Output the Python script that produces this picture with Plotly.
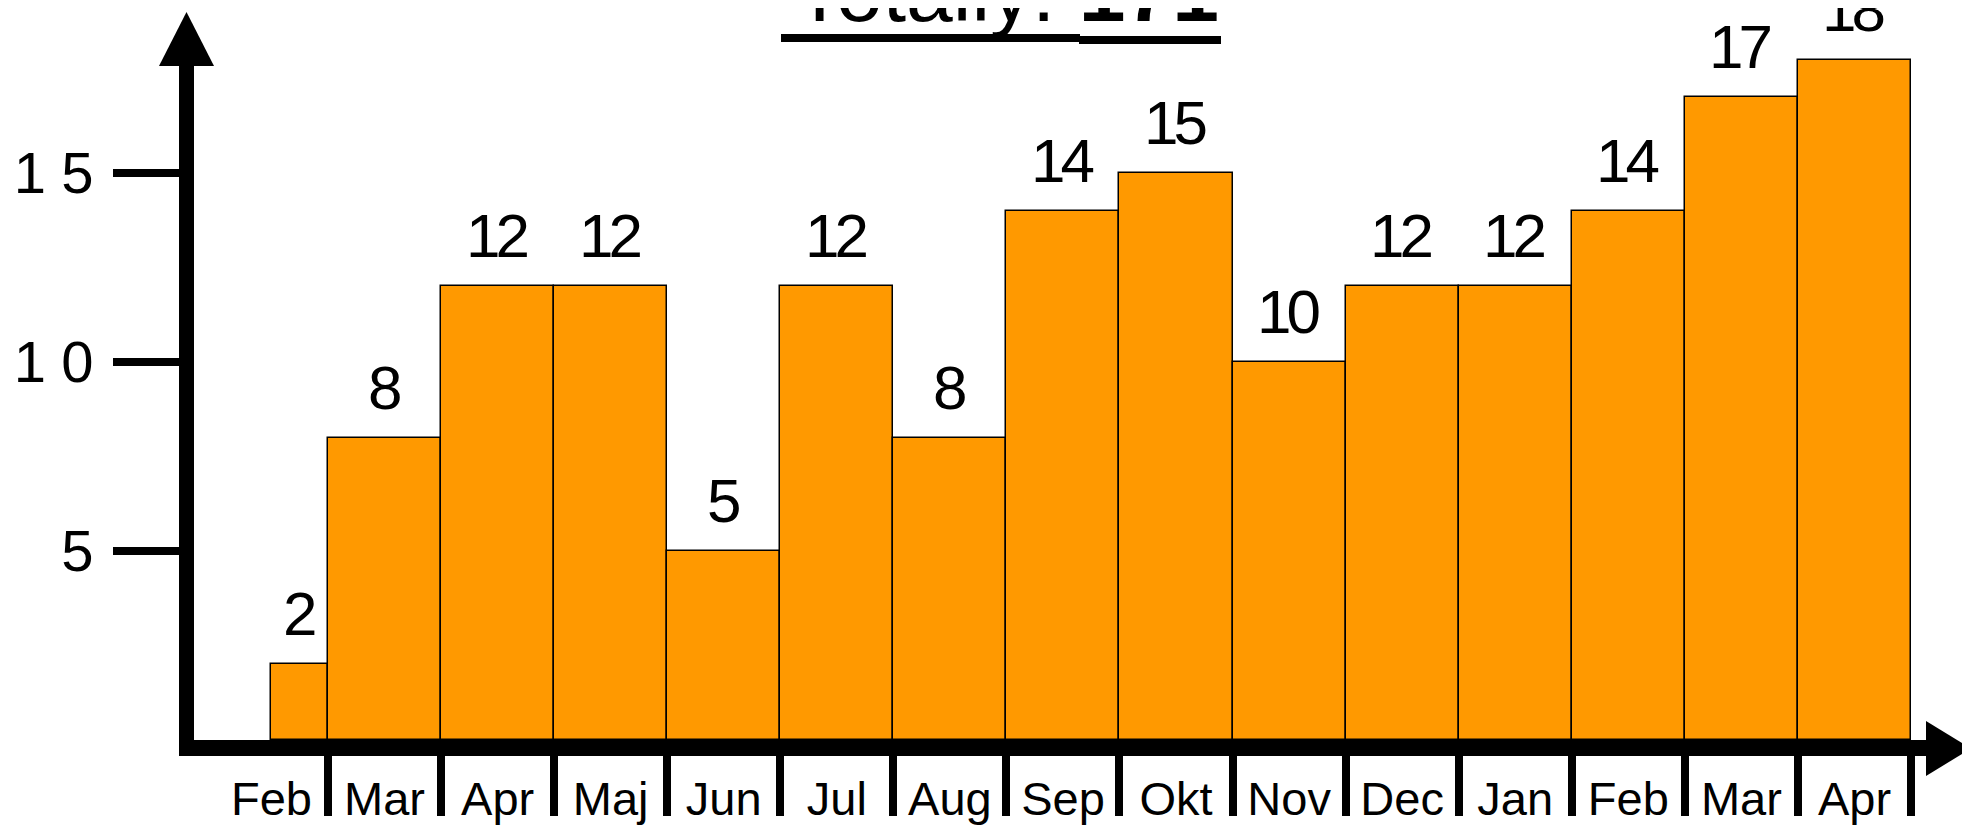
import plotly.graph_objects as go

# ---------------- data ----------------
months = ["Feb", "Mar", "Apr", "Maj", "Jun", "Jul", "Aug", "Sep", "Okt",
          "Nov", "Dec", "Jan", "Feb", "Mar", "Apr"]
counts = [2, 8, 12, 12, 5, 12, 8, 14, 15, 10, 12, 12, 14, 17, 18]
y_tick_values = [5, 10, 15]
first_month_share = 0.5   # the first month is only half covered

# ---------------- derived positions ----------------
n = len(months)
widths = [first_month_share if i == 0 else 1.0 for i in range(n)]
starts = [i + (1.0 - w) for i, w in enumerate(widths)]
centers = [s + w / 2 for s, w in zip(starts, widths)]
label_pos = [i + 0.5 for i in range(n)]
boundaries = [i + 1 for i in range(n)]
total = sum(counts)

# ---------------- geometry (page pixels -> figure) ----------------
OFF = 8                      # default body margin of the html page
W, H = 1970 - OFF, 826 - OFF
PLOT_L, PLOT_R, PLOT_B = 194, 1940, 740   # page pixels
ML = PLOT_L - OFF
MR = (1970 - OFF) - (PLOT_R - OFF)
MT = 0
MB = H - (PLOT_B - OFF)
PW = W - ML - MR
PH = H - MT - MB
px_month = 113.07
px_unit = 37.8
x_lo = 1 - (328 - PLOT_L) / px_month
x_hi = x_lo + PW / px_month
y_hi = PH / px_unit


def fx(px):
    return (px - OFF - ML) / PW


def fy(py):
    return (H - MB - (py - OFF)) / PH


REG = "Liberation Sans, Arial, sans-serif"


def spaced(v, gap):
    s = str(v)
    if len(s) == 1:
        return s
    return '<span style="letter-spacing:%dpx">%s</span>%s' % (gap, s[:-1], s[-1])


fig = go.Figure()
fig.add_trace(go.Bar(
    x=centers, y=counts, width=widths,
    marker=dict(color="#FF9900", line=dict(color="black", width=1.5)),
    cliponaxis=False, hoverinfo="skip", showlegend=False,
))

annotations = []
for c, v in zip(centers, counts):
    annotations.append(dict(
        x=c, y=v, xref="x", yref="y", text=spaced(v, -5), showarrow=False,
        yanchor="bottom", xanchor="center", yshift=14,
        font=dict(family=REG, size=62, color="black"),
    ))

annotations.append(dict(
    x=fx(1006), y=fy(-57), xref="paper", yref="paper",
    text="Totally: <b>%d</b>" % total, showarrow=False,
    xanchor="center", yanchor="top",
    font=dict(family=REG, size=84, color="black"),
))

shapes = [
    # y-axis line
    dict(type="line", xref="paper", yref="paper",
         x0=fx(186.5), x1=fx(186.5), y0=fy(756), y1=fy(60),
         line=dict(color="black", width=15), layer="above"),
    # y-axis arrow head
    dict(type="path", xref="paper", yref="paper",
         path="M %f %f L %f %f L %f %f Z" % (fx(159), fy(66), fx(186.5), fy(12), fx(214), fy(66)),
         fillcolor="black", line=dict(width=0), layer="above"),
    # x-axis arrow head
    dict(type="path", xref="paper", yref="paper",
         path="M %f %f L %f %f L %f %f Z" % (fx(1926), fy(721), fx(1971), fy(748.5), fx(1926), fy(776)),
         fillcolor="black", line=dict(width=0), layer="above"),
    # title underlines
    dict(type="line", xref="paper", yref="paper", x0=fx(781), x1=fx(1080), y0=fy(38), y1=fy(38),
         line=dict(color="black", width=8), layer="above"),
    dict(type="line", xref="paper", yref="paper", x0=fx(1079), x1=fx(1221), y0=fy(40), y1=fy(40),
         line=dict(color="black", width=8), layer="above"),
]

fig.update_layout(
    width=W, height=H,
    margin=dict(l=ML, r=MR, t=MT, b=MB, pad=0, autoexpand=False),
    paper_bgcolor="white", plot_bgcolor="white",
    bargap=0,
    annotations=annotations,
    shapes=shapes,
    xaxis=dict(
        range=[x_lo, x_hi], showgrid=False, zeroline=False, automargin=False,
        showline=True, linecolor="black", linewidth=16,
        tickmode="array", tickvals=label_pos, ticktext=months, ticks="",
        ticklabelstandoff=3,
        tickfont=dict(family=REG, size=47, color="black"),
        minor=dict(tickmode="array", tickvals=boundaries, ticks="outside",
                   ticklen=60, tickwidth=8, tickcolor="black", showgrid=False),
    ),
    yaxis=dict(
        range=[0, y_hi], showgrid=False, zeroline=False, automargin=False,
        showline=False,
        tickmode="array", tickvals=y_tick_values,
        ticktext=[spaced(v, 15) for v in y_tick_values],
        ticks="outside", ticklen=80, tickwidth=8, tickcolor="black",
        ticklabelstandoff=8,
        tickfont=dict(family=REG, size=58, color="black"),
    ),
)

fig.write_html("out.html")
